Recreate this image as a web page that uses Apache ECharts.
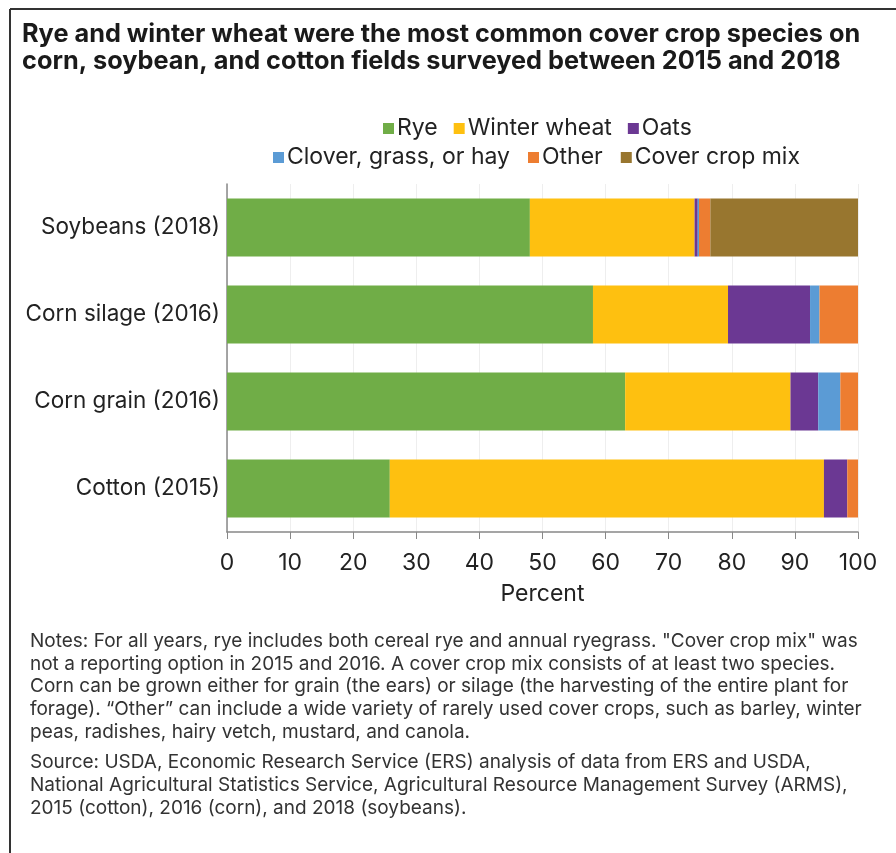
<!DOCTYPE html>
<html>
<head>
<meta charset="utf-8">
<script src="https://cdn.jsdelivr.net/npm/echarts@6/dist/echarts.min.js"></script>
<style>
  html, body { margin: 0; padding: 0; background: #fff; }
  #chart { width: 896px; height: 853px; }
</style>
</head>
<body>
<div id="chart"></div>
<script>
// Data (percent of cover crop acres)
const categories = ['Soybeans (2018)', 'Corn silage (2016)', 'Corn grain (2016)', 'Cotton (2015)'];
const rye = [48.0, 58.0, 63.1, 25.8];
const winterWheat = [26.1, 21.4, 26.2, 68.8];
const oats = [0.5, 13.0, 4.4, 3.7];
const clover = [0.2, 1.5, 3.5, 0];
const other = [1.8, 6.1, 2.8, 1.7];
const coverMix = [23.4, 0, 0, 0];
const xTicks = [0, 10, 20, 30, 40, 50, 60, 70, 80, 90, 100];

const titleLines = [
    'Rye and winter wheat were the most common cover crop species on',
    'corn, soybean, and cotton fields surveyed between 2015 and 2018'
];
const noteLines = [
    'Notes: For all years, rye includes both cereal rye and annual ryegrass. "Cover crop mix" was',
    'not a reporting option in 2015 and 2016. A cover crop mix consists of at least two species.',
    'Corn can be grown either for grain (the ears) or silage (the harvesting of the entire plant for',
    'forage). \u201cOther\u201d can include a wide variety of rarely used cover crops, such as barley, winter',
    'peas, radishes, hairy vetch, mustard, and canola.'
];
const sourceLines = [
    'Source: USDA, Economic Research Service (ERS) analysis of data from ERS and USDA,',
    'National Agricultural Statistics Service, Agricultural Resource Management Survey (ARMS),',
    '2015 (cotton), 2016 (corn), and 2018 (soybeans).'
];

const font = 'Inter, Roboto, sans-serif';

const seriesDefs = [
    { name: 'Rye', data: rye, color: '#70ad47' },
    { name: 'Winter wheat', data: winterWheat, color: '#fec010' },
    { name: 'Oats', data: oats, color: '#6b3893' },
    { name: 'Clover, grass, or hay', data: clover, color: '#5b9bd5' },
    { name: 'Other', data: other, color: '#ed7d31' },
    { name: 'Cover crop mix', data: coverMix, color: '#98762f' }
];

const graphics = [
    { type: 'line', shape: { x1: 10, y1: 9, x2: 896, y2: 9 }, style: { stroke: '#333', lineWidth: 2 } },
    { type: 'line', shape: { x1: 10, y1: 9, x2: 10, y2: 853 }, style: { stroke: '#333', lineWidth: 2 } }
];
titleLines.forEach(function (t, i) {
    graphics.push({
        type: 'text', left: 22, top: 22 + i * 27,
        style: { text: t, font: 'bold 25.3px ' + font, fill: '#1a1a1a' }
    });
});
noteLines.forEach(function (t, i) {
    graphics.push({
        type: 'text', left: 30, top: 632 + i * 22.6,
        style: { text: t, font: '19px ' + font, fill: '#333' }
    });
});
sourceLines.forEach(function (t, i) {
    graphics.push({
        type: 'text', left: 30, top: 753 + i * 22.8,
        style: { text: t, font: '19px ' + font, fill: '#333' }
    });
});

const chart = echarts.init(document.getElementById('chart'));
chart.setOption({
    animation: false,
    textStyle: { fontFamily: font },
    color: seriesDefs.map(function (s) { return s.color; }),
    graphic: graphics,
    legend: [
        {
            data: ['Rye', 'Winter wheat', 'Oats'],
            left: 378, top: 112,
            icon: 'rect', itemWidth: 11, itemHeight: 11, itemGap: 16,
            textStyle: { fontSize: 23, color: '#222', padding: [0, 0, 0, -2] }
        },
        {
            data: ['Clover, grass, or hay', 'Other', 'Cover crop mix'],
            left: 268, top: 141,
            icon: 'rect', itemWidth: 11, itemHeight: 11, itemGap: 18,
            textStyle: { fontSize: 23, color: '#222', padding: [0, 0, 0, -2] }
        }
    ],
    grid: { left: 227, right: 38, top: 184, height: 348, containLabel: false },
    xAxis: {
        type: 'value',
        min: xTicks[0],
        max: xTicks[xTicks.length - 1],
        interval: 10,
        name: 'Percent',
        nameLocation: 'middle',
        nameGap: 51,
        nameTextStyle: { fontSize: 23, color: '#222' },
        axisLine: { show: true, lineStyle: { color: '#888', width: 1.5 } },
        axisTick: { show: true, length: 7, lineStyle: { color: '#888' } },
        axisLabel: { fontSize: 23, color: '#222', margin: 20 },
        splitLine: { show: true, lineStyle: { color: '#eeeeee' } }
    },
    yAxis: {
        type: 'category',
        data: categories,
        inverse: true,
        axisLine: { show: true, lineStyle: { color: '#888', width: 1.5 } },
        axisTick: { show: false },
        axisLabel: { fontSize: 22.5, color: '#222', margin: 7 }
    },
    series: seriesDefs.map(function (s) {
        return {
            name: s.name,
            type: 'bar',
            stack: 'total',
            barWidth: 58,
            data: s.data,
            itemStyle: { color: s.color }
        };
    })
});

window.addEventListener('resize', function () {
    chart.resize();
});
</script>
</body>
</html>
